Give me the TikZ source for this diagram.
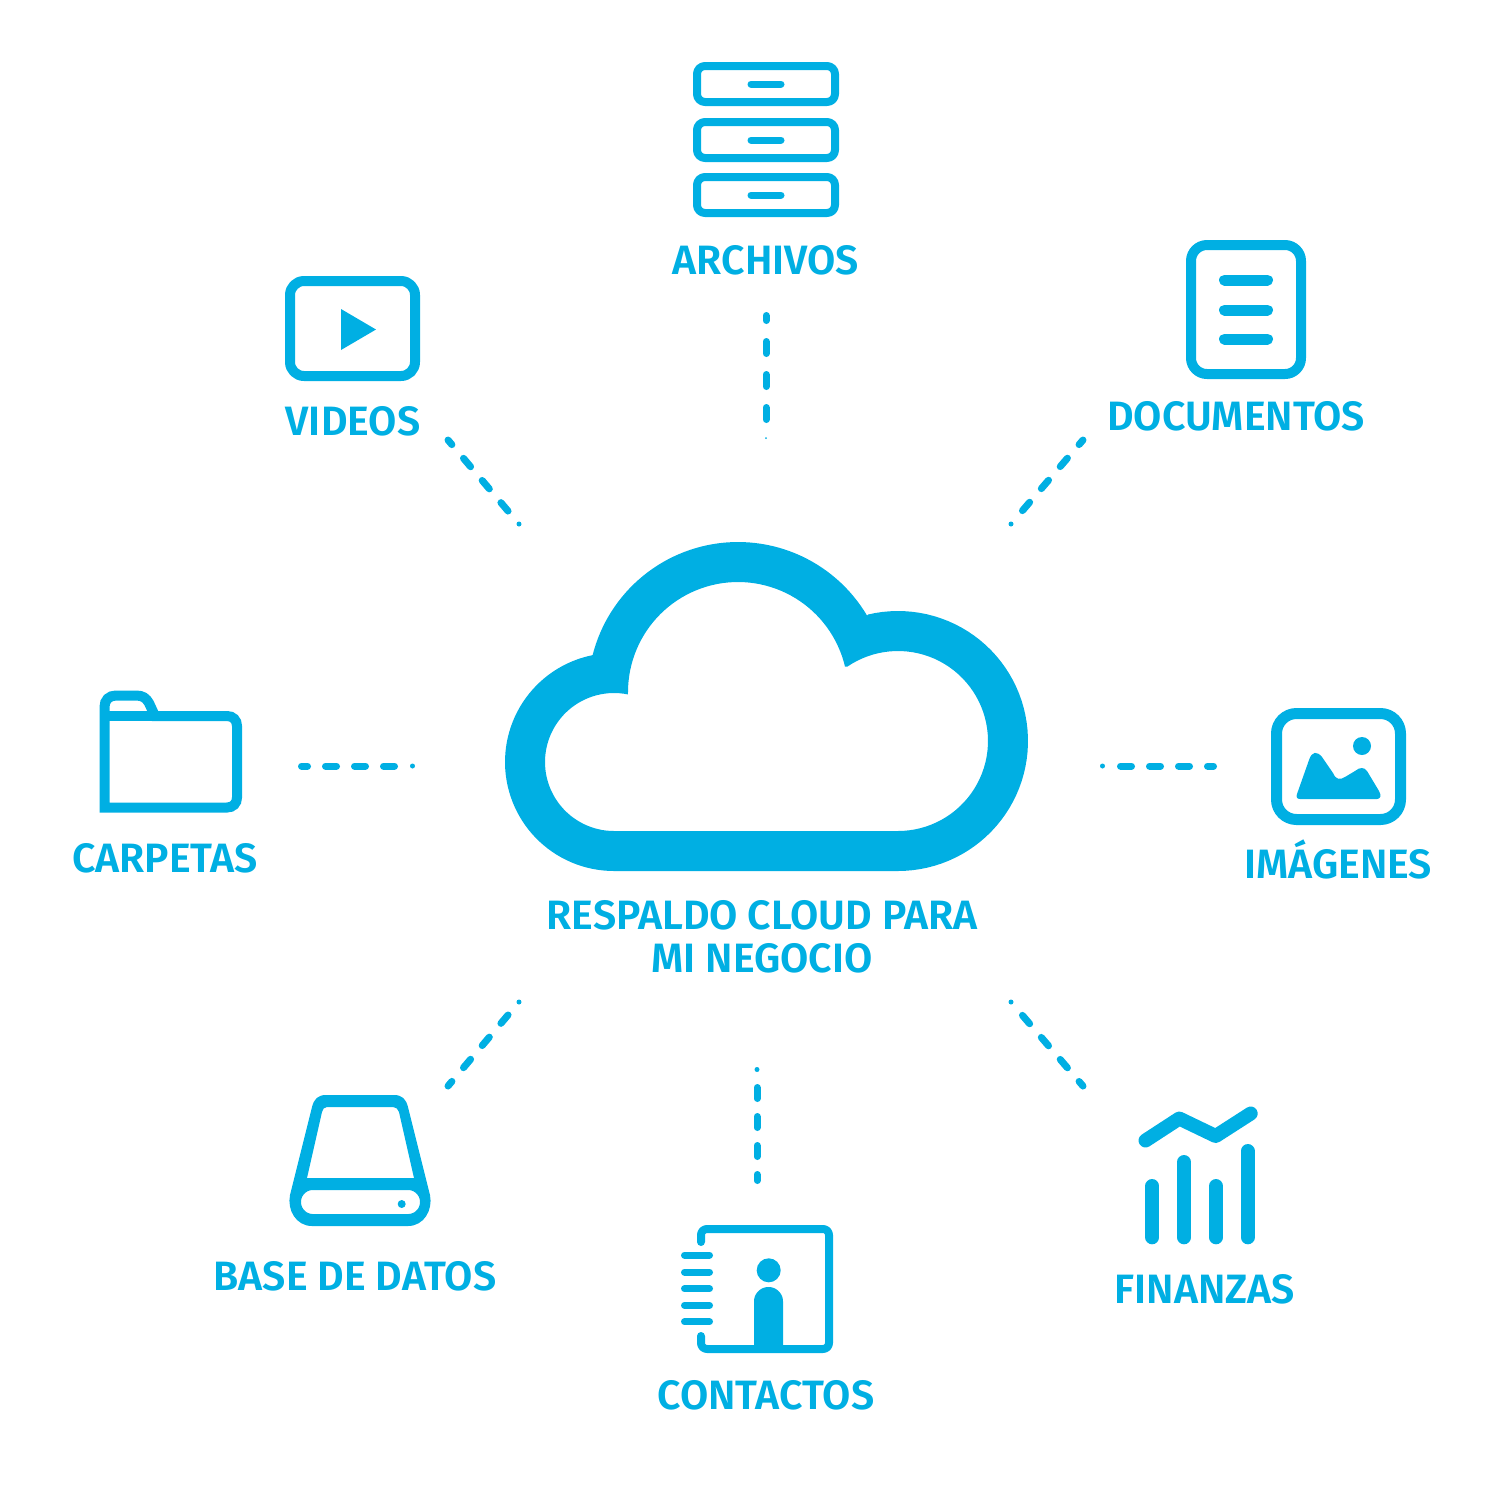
\documentclass[tikz,border=0pt]{standalone}
\usepackage{fontspec}
\setmainfont{Fira Sans SemiBold}
\definecolor{cy}{HTML}{00AFE3}
\newcommand{\ARC}[5]{-- plot[domain=#4:#5,samples=60] ({#1+#3*cos(\x)},{#2+#3*sin(\x)})}
\tikzset{
  x=0.5pt,y=-0.5pt,
  lab/.style={text=cy,inner sep=0pt,anchor=base,font=\fontsize{20.5}{21.5}\selectfont},
  ico/.style={draw=cy,line width=#1*0.5pt,line join=round},
  conn/.style={draw=cy,line width=3.5pt,line cap=round,dash pattern=on 5.5pt off 9pt,dash phase=2.5pt,shorten >=3pt},
  connlong/.style={draw=cy,line width=3.5pt,line cap=round,dash pattern=on 6pt off 10.5pt,dash phase=3.5pt,shorten >=3pt},
  tip/.style={fill=cy,draw=none},
}
\begin{document}
\begin{tikzpicture}
\useasboundingbox (0,0) rectangle (1500,1501);
% cloud
\fill[cy,even odd rule]
  (614,871) -- (898,871) \ARC{898}{741}{130}{90}{-103.4} \ARC{738}{692}{150}{-30.6}{-166} \ARC{614}{762}{109}{-101}{-270} -- cycle
  (614,831) -- (898,831) \ARC{898}{741}{90}{90}{-124.2} \ARC{738}{692}{110}{-13.4}{-180} \ARC{614}{762}{69}{-78.5}{-270} -- cycle;
% labels
\node[lab] (archivos) at (766,274) {ARCHIVOS};
\node[lab] (videos) at (353,435) {VIDEOS};
\node[lab] (documentos) at (1236,430) {DOCUMENTOS};
\node[lab] (carpetas) at (165,872) {CARPETAS};
\node[lab] (imagenes) at (1338,878) {IMÁGENES};
\node[lab,anchor=center,align=center] (cloud) at (762,937) {RESPALDO CLOUD PARA\\[0pt]MI NEGOCIO};
\node[lab] (base) at (355,1290) {BASE DE DATOS};
\node[lab] (finanzas) at (1205,1303) {FINANZAS};
\node[lab] (contactos) at (766,1409) {CONTACTOS};
% connector ends
\coordinate (a1) at (766,315.5); \coordinate (a2) at (766,438);
\coordinate (v1) at (448,440);   \coordinate (v2) at (519,524);
\coordinate (d1) at (1083,440);  \coordinate (d2) at (1011,524);
\coordinate (c1) at (301.5,766); \coordinate (c2) at (412.5,766);
\coordinate (i1) at (1213.5,766);\coordinate (i2) at (1102.5,766);
\coordinate (b1) at (448,1086);  \coordinate (b2) at (519,1002);
\coordinate (f1) at (1083,1086); \coordinate (f2) at (1011,1002);
\coordinate (k1) at (757,1180.5);\coordinate (k2) at (757,1069.5);
\draw[connlong] (a1) -- (a2); \fill[tip] (a2) circle[radius=1];
\foreach \p/\q in {v1/v2,d1/d2,c1/c2,i1/i2,b1/b2,f1/f2,k1/k2}{
  \draw[conn] (\p) -- (\q); \fill[tip] (\q) circle[radius=2.5];
}
% archivos icon
\foreach \y in {66,122,177}{
  \draw[ico=8,rounded corners=4pt] (697,\y) rectangle (835,\y+36);
  \draw[ico=7,line cap=round] (751,\y+18) -- (781,\y+18);
}
% video
\draw[ico=10,rounded corners=7pt] (290,281) rectangle (415,376);
\fill[cy] (341,309) -- (376,329.5) -- (341,350) -- cycle;
% document
\draw[ico=10,rounded corners=8pt] (1191,245) rectangle (1301,374);
\foreach \y in {280,310,339}{\draw[ico=11,line cap=round] (1224.5,\y) -- (1267.5,\y);}
% folder
\draw[ico=10,line join=miter] (104.5,807.5) -- (104.5,707) .. controls (104.5,700) and (109,695.5) .. (116,695.5)
  -- (136,695.5) .. controls (143,695.5) and (146,698) .. (149,703) -- (155,716)
  -- (227,716) .. controls (233,716) and (237,720) .. (237,726)
  -- (237,797.5) .. controls (237,803.5) and (233,807.5) .. (227,807.5) -- cycle;
\draw[ico=10] (104.5,716) -- (155,716);
% image
\draw[ico=11,rounded corners=10pt] (1276.5,713.5) rectangle (1400.5,819.5);
\fill[cy] (1362,746) circle[radius=9];
\fill[cy] (1300,799) .. controls (1297,799) and (1296,797) .. (1297,794) -- (1309,760)
  .. controls (1312,751) and (1317,751) .. (1322,757) -- (1333,773)
  .. controls (1336,780) and (1340,780) .. (1345,777) -- (1355,771)
  .. controls (1360,767) and (1364,767) .. (1367,771) -- (1379,791)
  .. controls (1382,796) and (1380,799) .. (1377,799) -- cycle;
% database
\fill[cy,even odd rule]
  (326,1095) -- (394,1095) .. controls (402,1095) and (406,1099) .. (408,1107) -- (430,1195)
  .. controls (433,1210) and (424,1226) .. (408,1226) -- (312,1226)
  .. controls (296,1226) and (287,1210) .. (290,1195) -- (312,1107)
  .. controls (314,1099) and (318,1095) .. (326,1095) -- cycle
  (327,1107) -- (393,1107) .. controls (396,1107) and (398,1109) .. (399,1112) -- (414,1178) -- (307,1178) -- (322,1112) .. controls (323,1109) and (324,1107) .. (327,1107) -- cycle
  (313,1190) -- (408,1190) \ARC{408}{1202}{12}{-90}{90} -- (313,1214) \ARC{313}{1202}{12}{90}{270} -- cycle;
\fill[cy] (401.7,1204) circle[radius=4];
% contacts
\draw[ico=8,line cap=round,rounded corners=3pt] (701,1242) -- (701,1229) -- (829,1229) -- (829,1349) -- (701,1349) -- (701,1336);
\foreach \y in {1255,1272,1288.7,1305.3,1321.7}{\draw[ico=7,line cap=round] (684.5,\y) -- (709.5,\y);}
\fill[cy] (768.7,1270.3) circle[radius=12];
\fill[cy] (754,1349) \ARC{768.5}{1301.5}{14.5}{180}{360} -- (783,1349) -- cycle;
% finance
\foreach \x/\t in {1152.3/1186,1184/1162,1216/1186,1247.7/1151}{\draw[ico=14,line cap=round] (\x,\t) -- (\x,1237.3);}
\draw[ico=14,line cap=round] (1145.5,1140.5) -- (1179.3,1118.5) -- (1215.7,1136) -- (1250.7,1113.5);
\end{tikzpicture}
\end{document}
